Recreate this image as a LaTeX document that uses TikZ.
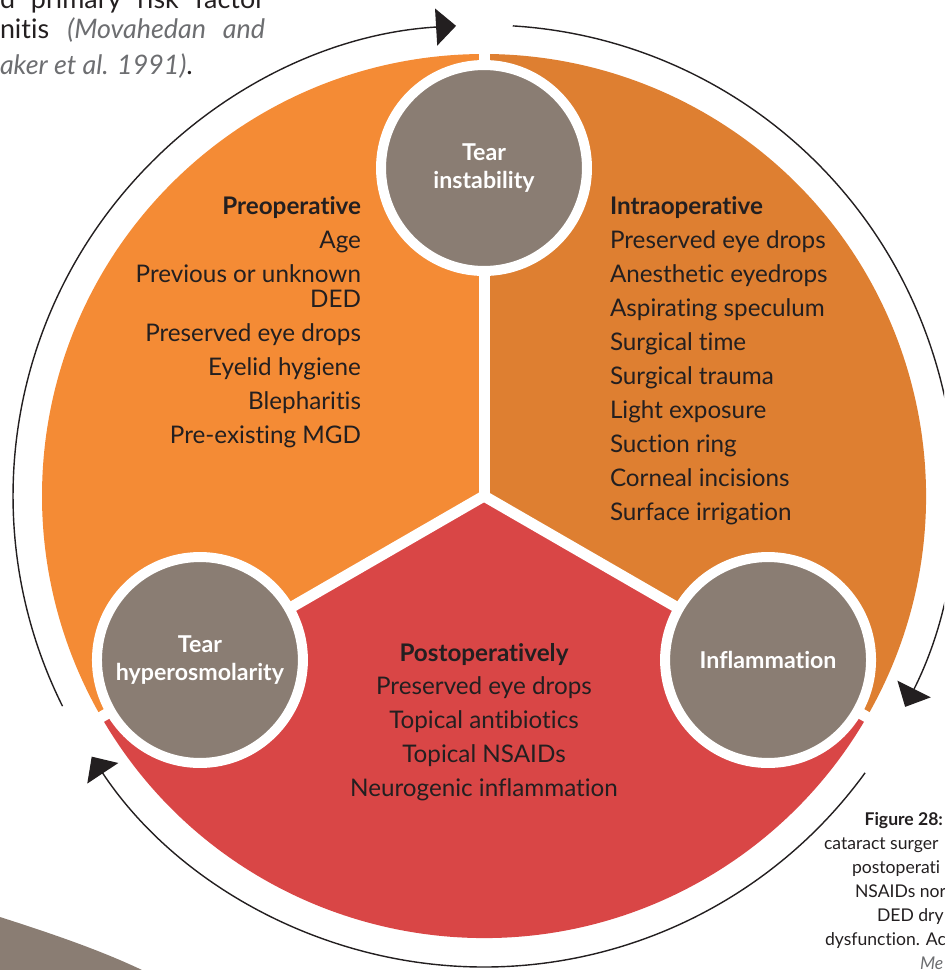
\documentclass[tikz,border=0pt]{standalone}
\usepackage{fontspec}
\setmainfont{Lato}[Ligatures=NoCommon]
\usetikzlibrary{arrows.meta}

\definecolor{preop}{HTML}{F48B35}
\definecolor{intraop}{HTML}{DE7F31}
\definecolor{postop}{HTML}{D94646}
\definecolor{hubgrey}{HTML}{8A7D73}
\definecolor{inkdark}{HTML}{231F20}
\definecolor{citegrey}{HTML}{6D6E71}

\begin{document}
\begin{tikzpicture}[
  x=0.02cm, y=0.02cm,
  every node/.style={inner sep=0pt, outer sep=0pt},
  wedgetext/.style={text=inkdark, font=\fontsize{13.8}{19.3}\selectfont},
  hub/.style={circle, fill=hubgrey, draw=white, line width=0.2cm,
              minimum size=4.12cm, text=white, align=center,
              font=\bfseries\fontsize{13.2}{15.5}\selectfont},
  divider/.style={white, line width=0.22cm},
  cyclearrow/.style={inkdark, line width=0.8pt,
                     -{Triangle[length=0.4cm, width=0.74cm]}},
  pagetext/.style={text=inkdark, font=\fontsize{15.3}{20}\selectfont},
  captext/.style={text=inkdark, anchor=base west, font=\fontsize{10}{13.5}\selectfont},
]
\useasboundingbox (0,0) rectangle (944,-970);
\clip (0,0) rectangle (944,-970);

% Wheel
\coordinate (c) at (484,-496);
\begin{scope}[shift={(c)}]
  \fill[preop] (0,0) -- (90:442) arc[start angle=90, end angle=210, radius=442] -- cycle;
  \fill[postop] (0,0) -- (210:442) arc[start angle=210, end angle=330, radius=442] -- cycle;
  \fill[intraop] (0,0) -- (-30:442) arc[start angle=-30, end angle=90, radius=442] -- cycle;
  \draw[divider] (0,0) -- (90:450);
  \draw[divider] (0,0) -- (210:450);
  \draw[divider] (0,0) -- (330:450);

  % Cycle arrows
  \coordinate (a1) at (206.5:471);
  \coordinate (a2) at (86.5:471);
  \coordinate (a3) at (-36:471);
  \draw[cyclearrow] (a1) arc[start angle=206.5, end angle=93.4, radius=471];
  \draw[cyclearrow] (a2) arc[start angle=86.5, end angle=-26.6, radius=471];
  \draw[cyclearrow] (a3) arc[start angle=-36, end angle=-146.4, radius=471];

  % Hubs
  \node[hub] (tin) at (90:328) {Tear\\instability};
  \node[hub] (thy) at (210:328) {Tear\\hyperosmolarity};
  \node[hub] (inf) at (330:328) {Inflammation};
\end{scope}

% Sector texts
\node[wedgetext, align=right, anchor=north east] (pre) at (361,-197)
  {\textbf{Preoperative}\\Age\\Previous or unknown\\[-5.1pt]DED\\
   Preserved eye drops\\Eyelid hygiene\\Blepharitis\\Pre-existing MGD};
\node[wedgetext, align=left, anchor=north west] (intra) at (610,-197)
  {\textbf{Intraoperative}\\Preserved eye drops\\Anesthetic eyedrops\\
   Aspirating speculum\\Surgical time\\Surgical trauma\\Light exposure\\
   Suction ring\\Corneal incisions\\Surface irrigation};
\node[wedgetext, align=center, anchor=north] (post) at (484,-643)
  {\textbf{Postoperatively}\\Preserved eye drops\\Topical antibiotics\\
   Topical NSAIDs\\Neurogenic inflammation};

% Page text around the figure
\node[pagetext, anchor=base west] (p1) at (0,-9)
  {\makebox[5.3cm][s]{d primary risk factor}};
\node[pagetext, anchor=base west] (p2) at (0,-38)
  {\makebox[5.3cm][s]{nitis \textcolor{citegrey}{\itshape(Movahedan and}}};
\node[pagetext, anchor=base west] (p3) at (0,-74)
  {\textcolor{citegrey}{\itshape aker et al. 1991)}.};

\fill[hubgrey] (0,-917) .. controls (50,-933) and (100,-950) .. (142,-970)
  -- (0,-970) -- cycle;

% Caption
\node[captext, anchor=base east] (fig) at (943,-825) {\textbf{Figure 28:}};
\node[captext] (c1) at (824,-849) {cataract surger};
\node[captext] (c2) at (852,-873) {postoperati};
\node[captext] (c3) at (855,-897) {NSAIDs nor};
\node[captext] (c4) at (877,-921) {DED dry};
\node[captext] (c5) at (825,-945) {dysfunction. Ac};
\node[captext, text=citegrey, font=\itshape\fontsize{10}{13.5}\selectfont] (c6) at (920,-969) {Me};
\end{tikzpicture}
\end{document}
